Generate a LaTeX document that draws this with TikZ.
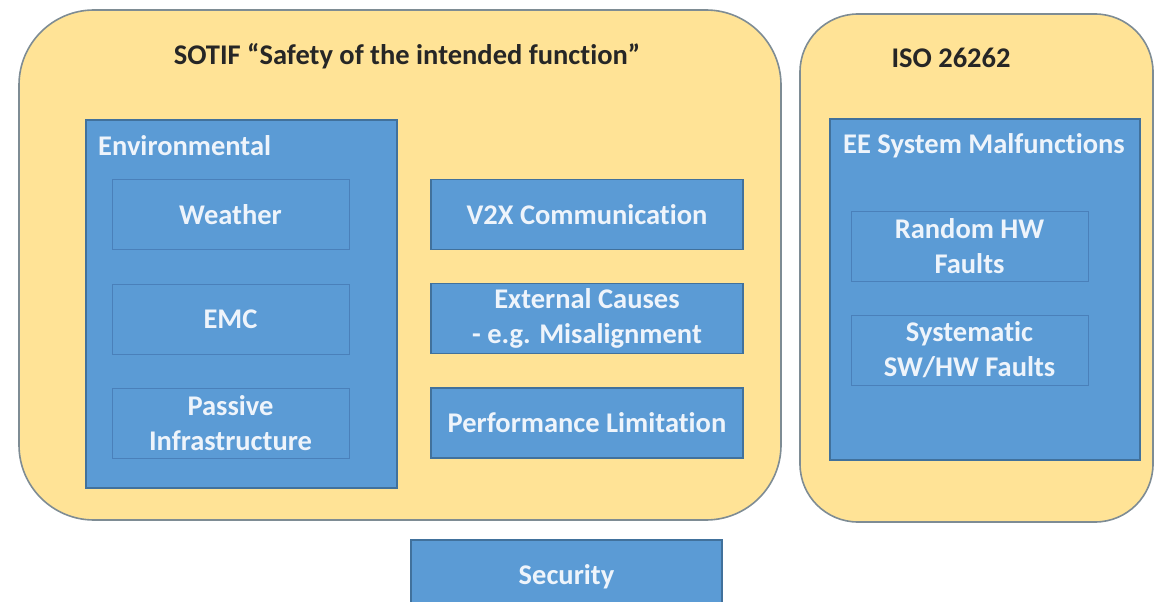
\documentclass[tikz,border=0pt]{standalone}
\usepackage{fontspec}
\setmainfont{Carlito}[Ligatures=NoCommon]
\definecolor{sand}{HTML}{FFE396}
\definecolor{outerline}{HTML}{7E8C94}
\definecolor{bluefill}{HTML}{5B9BD5}
\definecolor{blueline}{HTML}{41719C}
\definecolor{innerline}{HTML}{4A80BA}
\definecolor{titletext}{HTML}{262626}
\definecolor{boxtext}{HTML}{EEF4FB}
\begin{document}
\begin{tikzpicture}[x=1pt,y=-1pt,
  outerbox/.style={draw=outerline, fill=sand, line width=1.6pt, inner sep=0pt},
  bluebox/.style={draw=blueline, fill=bluefill, line width=1.2pt, inner sep=0pt},
  innerbox/.style={draw=innerline, fill=bluefill, line width=1pt, text=boxtext, align=center,
    inner sep=0pt, minimum width=237pt, minimum height=70pt, font=\fontsize{28.5}{35}\selectfont\bfseries},
  sidebox/.style={innerbox, draw=blueline, line width=1.2pt, minimum width=312pt, minimum height=70pt},
  titlelabel/.style={text=titletext, inner sep=0pt, font=\fontsize{28.5}{35}\selectfont\bfseries},
  boxlabel/.style={text=boxtext, inner sep=0pt, font=\fontsize{28.5}{35}\selectfont\bfseries}]
\useasboundingbox (0,0) rectangle (1157,602);
\fill[white] (0,0) rectangle (1157,602);

% outer rounded containers
\node[outerbox, rounded corners=75pt, minimum width=762pt, minimum height=510pt] (sotif) at (400,265) {};
\node[outerbox, rounded corners=58pt, minimum width=353pt, minimum height=508pt] (iso) at (976.5,268) {};

\node[titlelabel, anchor=base] (sotiftitle) at (407,65) {SOTIF “Safety of the intended function”};
\node[titlelabel, anchor=base] (isotitle) at (951,67) {ISO 26262};

% Environmental group
\node[bluebox, minimum width=311pt, minimum height=368pt] (env) at (241.5,304) {};
\node[boxlabel, anchor=base west] (envlabel) at (98,155) {Environmental};
\node[innerbox] (weather) at (230.5,214.5) {Weather};
\node[innerbox] (emc) at (230.5,319.5) {EMC};
\node[innerbox] (passive) at (230.5,423) {Passive\\Infrastructure};

% middle column
\node[sidebox] (v2x) at (587,214.5) {V2X Communication};
\node[sidebox] (external) at (587,318.5) {External Causes\\- e.g. Misalignment};
\node[sidebox] (perf) at (587,423) {Performance Limitation};

% EE System Malfunctions group
\node[bluebox, minimum width=310pt, minimum height=341pt] (ee) at (985,289.5) {};
\node[boxlabel, anchor=base west] (eelabel) at (843,153) {EE System Malfunctions};
\node[innerbox] (random) at (969.5,246) {Random HW\\Faults};
\node[innerbox] (systematic) at (969.5,350) {Systematic\\SW/HW Faults};

% Security (cut off at the bottom)
\begin{scope}
\clip (0,0) rectangle (1157,602);
\node[sidebox, minimum width=311pt, minimum height=80pt] (securitybox) at (566.5,580) {};
\end{scope}
\node[boxlabel, anchor=base] (security) at (566.5,584) {Security};
\end{tikzpicture}
\end{document}
